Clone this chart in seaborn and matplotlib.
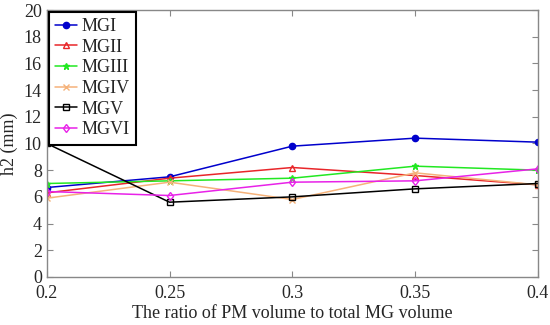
import pandas as pd
import seaborn as sns
import matplotlib.pyplot as plt

ratio = [0.2, 0.25, 0.3, 0.35, 0.4]
mg1 = [6.7, 7.5, 9.8, 10.4, 10.1]
mg2 = [6.3, 7.4, 8.2, 7.6, 6.9]
mg3 = [7.0, 7.2, 7.4, 8.3, 8.0]
mg4 = [5.9, 7.1, 5.8, 7.8, 6.9]
mg5 = [10.0, 5.6, 6.0, 6.6, 7.0]
mg6 = [6.4, 6.1, 7.1, 7.2, 8.1]
names = ["MGI", "MGII", "MGIII", "MGIV", "MGV", "MGVI"]

series = dict(zip(names, [mg1, mg2, mg3, mg4, mg5, mg6]))

sns.set_style("ticks")
plt.rcParams["font.family"] = ["Liberation Serif", "DejaVu Serif"]

colors = {"MGI": "#0000cc", "MGII": "#e8262a", "MGIII": "#22e822",
          "MGIV": "#f5b27a", "MGV": "#000000", "MGVI": "#e822e8"}
markers = {"MGI": "o", "MGII": "^", "MGIII": "*", "MGIV": "x",
           "MGV": "s", "MGVI": "d"}
filled = {"MGI": True, "MGII": False, "MGIII": True, "MGIV": False,
          "MGV": False, "MGVI": False}

fig = plt.figure(figsize=(5.5, 3.25), dpi=100)
ax = fig.add_axes([0.085, 0.148, 0.893, 0.821])
for name in names:
    c = colors[name]
    sns.lineplot(x=ratio, y=series[name], ax=ax, color=c, label=name,
                 marker=markers[name], linewidth=1.1, markersize=4.5,
                 markerfacecolor=c if filled[name] else "none",
                 markeredgecolor=c, markeredgewidth=1.0)

ax.set_xlim(0.2, 0.4)
ax.set_ylim(0, 20)
ax.set_xticks(ratio)
ax.set_xticklabels(["0.2", "0.25", "0.3", "0.35", "0.4"])
ax.set_yticks(range(0, 21, 2))
ax.tick_params(direction="in", top=True, right=True, labelsize=13,
               color="#888888", length=4)
ax.tick_params(axis="x", pad=6)
for s in ax.spines.values():
    s.set_color("#888888")
    s.set_linewidth(1.0)
ax.set_xlabel("The ratio of PM volume to total MG volume", fontsize=13,
              labelpad=2)
ax.set_ylabel("h2 (mm)", fontsize=13, labelpad=4)

leg = ax.legend(loc="upper left", fontsize=13, frameon=True, fancybox=False,
                borderaxespad=0.1, handlelength=1.2, handletextpad=0.25,
                labelspacing=0.2, borderpad=0.35)
leg.get_frame().set_edgecolor("black")
leg.get_frame().set_linewidth(1.5)
leg.get_frame().set_alpha(1)

fig.savefig("out.png", dpi=100)
